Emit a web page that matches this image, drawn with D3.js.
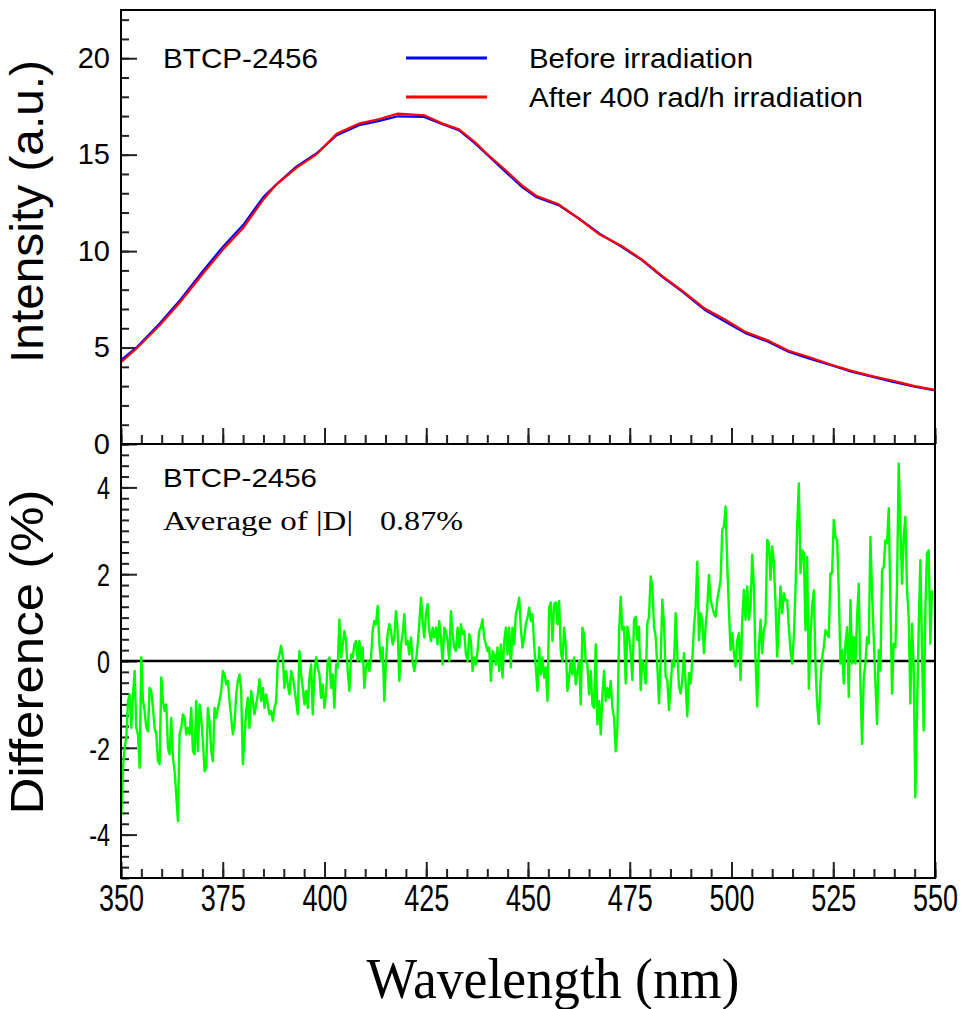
<!DOCTYPE html>
<html>
<head>
<meta charset="utf-8">
<script src="https://cdn.jsdelivr.net/npm/d3@7"></script>
<style>
  body { margin: 0; background: #fff; }
  svg { display: block; }
  .sans { font-family: "Liberation Sans", Arial, Helvetica, sans-serif; }
  .serif { font-family: "Liberation Serif", "Times New Roman", serif; }
</style>
</head>
<body>
<div id="chart"></div>
<script>
// emission spectrum
const specWavelength = [350, 354, 359.5, 364.5, 370, 375, 380, 385, 388, 393, 398, 403, 408.5, 413.5,
  418, 424.5, 429, 433, 437, 440.5, 444.5, 448.5, 452, 457.5, 462.5, 467.5, 473, 478, 483, 488,
  493.5, 498.5, 503.5, 509, 514, 519, 524.5, 529.5, 534.5, 539.5, 545, 550];
const beforeIntensity = [4.35, 5.04, 6.25, 7.46, 8.93, 10.22, 11.35, 12.81, 13.42, 14.37, 15.06, 16.01, 16.53, 16.75,
  16.99, 16.96, 16.58, 16.27, 15.58, 14.89, 14.11, 13.33, 12.81, 12.38, 11.69, 10.92, 10.22, 9.53, 8.67, 7.89,
  6.94, 6.34, 5.74, 5.30, 4.78, 4.44, 4.09, 3.75, 3.49, 3.23, 2.97, 2.78];
const afterIntensity = [4.24, 4.99, 6.16, 7.35, 8.80, 10.07, 11.20, 12.68, 13.42, 14.30, 15.01, 16.09, 16.61, 16.85,
  17.13, 17.04, 16.61, 16.32, 15.64, 14.93, 14.19, 13.41, 12.87, 12.43, 11.69, 10.87, 10.27, 9.56, 8.70, 7.93,
  7.01, 6.44, 5.80, 5.36, 4.83, 4.51, 4.11, 3.79, 3.52, 3.29, 3.00, 2.81];

// relative difference (%), sampled every ~0.41 nm from 350.1 nm
const diffStart = 350.08;
const diffStep = 0.409;
const diffValues = [
  -3.54,-2.46,-2.00,-1.77,-0.92,-0.77,-1.54,-0.77,-0.23,-1.54,
  -1.69,-2.46,0.08,-0.92,-1.15,-1.54,-1.62,-0.62,-0.69,-1.08,
  -1.54,-1.69,-2.31,-2.38,-0.38,-0.92,-1.15,-1.00,-2.00,-2.15,
  -1.31,-2.23,-2.54,-3.08,-3.69,-1.69,-1.54,-1.23,-1.31,-1.69,
  -1.54,-1.69,-1.08,-2.08,-2.15,-0.92,-2.08,-1.00,-1.31,-1.85,
  -2.54,-2.46,-1.08,-1.38,-2.08,-2.31,-1.08,-1.31,-1.08,-0.92,
  -0.69,-0.23,-0.31,-0.54,-0.46,-0.92,-1.31,-1.69,-1.46,-0.77,
  -0.46,-0.31,-0.69,-2.38,-1.77,-1.15,-0.85,-1.54,-0.69,-0.92,
  -1.23,-1.00,-0.77,-0.42,-0.92,-0.62,-1.08,-0.77,-1.00,-1.23,
  -1.15,-1.38,-1.08,-0.92,0.00,0.15,0.35,0.08,-0.62,-0.23,
  -0.54,
  -0.77,-0.23,-0.38,-0.62,-0.92,-1.23,0.23,-0.31,-0.62,-1.00,
  -0.69,-1.08,-0.38,-0.08,-1.23,-0.31,0.08,-0.15,-0.31,-0.85,
  -0.54,-1.08,-0.77,0.00,0.08,-0.62,-0.31,-1.08,-0.08,-0.15,
  0.96,0.08,0.38,0.69,0.46,-0.23,-0.69,0.15,0.08,0.38,
  0.46,0.00,0.46,0.00,0.31,-0.62,-0.15,0.00,-0.23,0.08,
  0.69,0.92,0.85,1.27,0.38,0.00,0.31,-0.92,0.00,0.62,
  0.85,0.69,0.38,0.54,1.15,0.69,-0.46,0.38,0.62,1.08,
  0.38,0.46,0.15,0.54,0.00,-0.23,0.00,0.38,0.85,1.46,
  0.92,0.54,1.08,1.31,0.69,0.46,0.77,0.54,0.77,0.38,
  0.92,0.54,-0.08,0.77,0.69,0.46,0.00,1.15,0.62,0.31,
  0.23,0.77,0.31,0.85,0.62,0.69,0.15,0.00,0.62,0.46,
  -0.23,0.08,-0.08,0.23,0.69,0.77,0.96,0.54,0.38,0.23,
  0.31,-0.46,0.23,0.15,-0.08,0.31,-0.23,0.38,-0.38,0.46,
  0.77,0.15,0.77,-0.15,0.77,0.38,1.08,1.23,1.46,0.77,
  0.31,0.54,0.85,1.00,1.23,0.92,1.08,0.38,-0.15,-0.69,
  0.31,-0.31,0.08,-0.38,-0.15,-0.92,1.23,1.35,0.46,1.31,
  1.35,0.85,1.38,0.23,0.00,0.77,0.38,-0.69,-0.38,0.00,
  -0.31,0.08,-0.54,-0.23,0.00,-1.00,0.77,0.62,0.00,-0.08,
  -0.77,-0.23,-1.00,-1.08,0.38,-1.46,-0.92,-1.69,-0.77,-0.23,
  -0.92,-0.62,-0.85,-0.46,-1.08,-1.31,-2.08,-1.54,0.62,
  1.48,0.72,0.79,-0.52,0.79,0.56,0.18,-0.44,0.95,1.02,
  0.48,0.79,-0.67,0.02,-0.13,-0.52,0.87,1.02,1.95,1.72,
  0.79,0.56,-0.13,-0.98,0.02,1.41,0.87,-0.36,-0.44,-1.13,
  -0.59,0.02,-0.13,1.10,0.18,-0.59,-0.75,-0.44,0.18,-0.52,
  -1.28,-0.28,-0.52,0.02,0.79,1.25,2.29,0.48,1.10,0.95,
  0.18,0.79,1.25,1.98,1.41,1.25,1.10,1.02,1.41,1.64,
  1.87,3.02,3.10,3.56,2.25,1.18,0.25,0.64,0.18,-0.13,
  0.48,0.64,-0.44,0.95,1.64,0.95,1.72,0.95,1.25,2.45,
  1.72,0.02,-1.05,0.33,0.95,0.18,0.72,0.87,2.79,2.72,
  1.87,2.64,2.25,1.33,0.10,0.95,1.72,1.10,1.56,
  1.40,1.40,0.78,0.25,-0.06,0.55,1.63,3.09,4.09,2.02,
  2.55,2.48,0.71,2.40,-0.64,0.55,1.25,1.63,-0.06,-0.98,
  -1.45,-0.52,0.09,0.32,0.71,0.63,0.55,2.02,2.02,3.25,
  2.86,2.78,1.63,-0.06,0.25,-0.52,0.40,0.78,-0.83,1.40,
  -0.06,0.55,-0.06,1.02,1.78,-0.52,-1.91,-0.37,-0.06,0.55,
  0.40,2.86,1.55,0.55,-0.52,-1.45,0.25,-0.22,2.09,2.17,
  2.78,2.71,3.52,1.40,-0.75,0.40,0.32,1.78,4.55,3.09,
  1.78,2.86,3.32,1.63,1.02,-0.98,0.86,-0.14,-3.14,-1.14,
  0.71,2.32,0.25,-1.60,1.17,2.48,2.55,0.40,1.63
];

const xTicks = [350, 375, 400, 425, 450, 475, 500, 525, 550];
const intensityTicks = [0, 5, 10, 15, 20];
const diffTicks = [-4, -2, 0, 2, 4];
const legendLabels = ['Before irradiation', 'After 400 rad/h irradiation'];
const legendColors = ['#0000ff', '#ff0000'];
const sampleName = 'BTCP-2456';
const averageLabel = 'Average of |D|';
const averageValue = '0.87%';

const width = 961;
const height = 1009;
const left = 121;
const right = 935;
const squeeze = 0.73; // lower pad text is narrow

const svg = d3.select('#chart')
  .append('svg')
  .attr('width', width)
  .attr('height', height);

const x = d3.scaleLinear().domain([350, 550]).range([left, right]);
const yTop = d3.scaleLinear().domain([0, 22.5]).range([444, 10]);
const yBot = d3.scaleLinear().domain([-5, 5]).range([878, 444]);

function styleAxis(g) {
  g.select('.domain').remove();
  g.selectAll('line').attr('stroke', '#222').attr('stroke-width', 2);
}

// ---- upper panel ----
svg.append('g')
  .attr('transform', `translate(${left},0)`)
  .call(d3.axisLeft(yTop).tickValues(d3.range(0, 23, 1)).tickSize(-8).tickFormat(''))
  .call(styleAxis);

svg.append('g')
  .attr('class', 'sans')
  .attr('transform', `translate(${left},0)`)
  .call(d3.axisLeft(yTop).tickValues(intensityTicks).tickSize(-16).tickPadding(11).tickFormat(d3.format('d')))
  .call(styleAxis)
  .selectAll('text')
  .attr('font-size', 29)
  .attr('fill', '#000');

svg.append('g')
  .attr('transform', `translate(0,444)`)
  .call(d3.axisBottom(x).tickValues(d3.range(350, 551, 5)).tickSize(-9).tickFormat(''))
  .call(styleAxis);

svg.append('g')
  .attr('transform', `translate(0,444)`)
  .call(d3.axisBottom(x).tickValues(xTicks).tickSize(-16).tickFormat(''))
  .call(styleAxis);

const lineTop = d3.line()
  .x(d => x(d[0]))
  .y(d => yTop(d[1]));

svg.append('path')
  .datum(specWavelength.map((w, i) => [w, beforeIntensity[i]]))
  .attr('fill', 'none')
  .attr('stroke', legendColors[0])
  .attr('stroke-width', 2.2)
  .attr('d', lineTop);

svg.append('path')
  .datum(specWavelength.map((w, i) => [w, afterIntensity[i]]))
  .attr('fill', 'none')
  .attr('stroke', legendColors[1])
  .attr('stroke-width', 2.2)
  .attr('d', lineTop);

svg.append('text')
  .attr('class', 'sans')
  .attr('x', 163).attr('y', 68)
  .attr('font-size', 28)
  .attr('textLength', 155).attr('lengthAdjust', 'spacingAndGlyphs')
  .text(sampleName);

// legend
const legend = svg.append('g').attr('class', 'sans');
legendLabels.forEach((label, i) => {
  const ly = [58, 97][i];
  legend.append('line')
    .attr('x1', 406).attr('x2', 487)
    .attr('y1', ly).attr('y2', ly)
    .attr('stroke', legendColors[i])
    .attr('stroke-width', 3);
  legend.append('text')
    .attr('x', 529).attr('y', ly + 10)
    .attr('font-size', 27)
    .attr('textLength', [224, 334][i]).attr('lengthAdjust', 'spacingAndGlyphs')
    .text(label);
});

svg.append('rect')
  .attr('x', left).attr('y', 10)
  .attr('width', right - left).attr('height', 434)
  .attr('fill', 'none').attr('stroke', '#000').attr('stroke-width', 2);

svg.append('text')
  .attr('class', 'sans')
  .attr('transform', 'translate(43,211.5) rotate(-90)')
  .attr('text-anchor', 'middle')
  .attr('font-size', 46)
  .attr('textLength', 303).attr('lengthAdjust', 'spacingAndGlyphs')
  .text('Intensity (a.u.)');

// ---- lower panel ----
svg.append('g')
  .attr('transform', `translate(${left},0)`)
  .call(d3.axisLeft(yBot).tickValues(d3.range(-5, 5.01, 0.25)).tickSize(-8).tickFormat(''))
  .call(styleAxis);

svg.append('g')
  .attr('class', 'sans')
  .attr('transform', `translate(${left},0)`)
  .call(d3.axisLeft(yBot).tickValues(diffTicks).tickSize(-16).tickFormat(d => d < 0 ? '-' + Math.abs(d) : String(d)))
  .call(styleAxis)
  .selectAll('text')
  .attr('font-size', 32)
  .attr('fill', '#000')
  .attr('x', -11 / squeeze)
  .attr('dy', '0.35em')
  .attr('transform', `scale(${squeeze},1)`);

svg.append('g')
  .attr('transform', `translate(0,878)`)
  .call(d3.axisBottom(x).tickValues(d3.range(350, 551, 5)).tickSize(-9).tickFormat(''))
  .call(styleAxis);

svg.append('g')
  .attr('class', 'sans')
  .attr('transform', `translate(0,878)`)
  .call(d3.axisBottom(x).tickValues(xTicks).tickSize(-16).tickPadding(7).tickFormat(d3.format('d')))
  .call(styleAxis)
  .selectAll('text')
  .attr('font-size', 37)
  .attr('fill', '#000')
  .attr('transform', `scale(${squeeze},1)`);

svg.append('line')
  .attr('x1', x(350)).attr('x2', x(550))
  .attr('y1', yBot(0)).attr('y2', yBot(0))
  .attr('stroke', '#000').attr('stroke-width', 2.5);

const lineBot = d3.line()
  .x(d => x(d[0]))
  .y(d => yBot(d[1]));

svg.append('path')
  .datum(diffValues.map((v, i) => [diffStart + i * diffStep, v]))
  .attr('fill', 'none')
  .attr('stroke', '#00ff00')
  .attr('stroke-width', 2.4)
  .attr('stroke-linejoin', 'round')
  .attr('d', lineBot);

svg.append('rect')
  .attr('x', left).attr('y', 444)
  .attr('width', right - left).attr('height', 434)
  .attr('fill', 'none').attr('stroke', '#000').attr('stroke-width', 2);

svg.append('text')
  .attr('class', 'sans')
  .attr('x', 163).attr('y', 487)
  .attr('font-size', 26)
  .attr('textLength', 154).attr('lengthAdjust', 'spacingAndGlyphs')
  .text(sampleName);

svg.append('text')
  .attr('class', 'serif')
  .attr('x', 163).attr('y', 530)
  .attr('font-size', 28)
  .attr('textLength', 190).attr('lengthAdjust', 'spacingAndGlyphs')
  .text(averageLabel);

svg.append('text')
  .attr('class', 'serif')
  .attr('x', 380).attr('y', 530)
  .attr('font-size', 28)
  .attr('textLength', 83).attr('lengthAdjust', 'spacingAndGlyphs')
  .text(averageValue);

svg.append('text')
  .attr('class', 'sans')
  .attr('transform', 'translate(43,652) rotate(-90)')
  .attr('text-anchor', 'middle')
  .attr('font-size', 46)
  .attr('textLength', 325).attr('lengthAdjust', 'spacingAndGlyphs')
  .text('Difference (%)');

svg.append('text')
  .attr('class', 'serif')
  .attr('x', 553).attr('y', 998)
  .attr('text-anchor', 'middle')
  .attr('font-size', 56)
  .attr('textLength', 373).attr('lengthAdjust', 'spacingAndGlyphs')
  .text('Wavelength (nm)');
</script>
</body>
</html>
